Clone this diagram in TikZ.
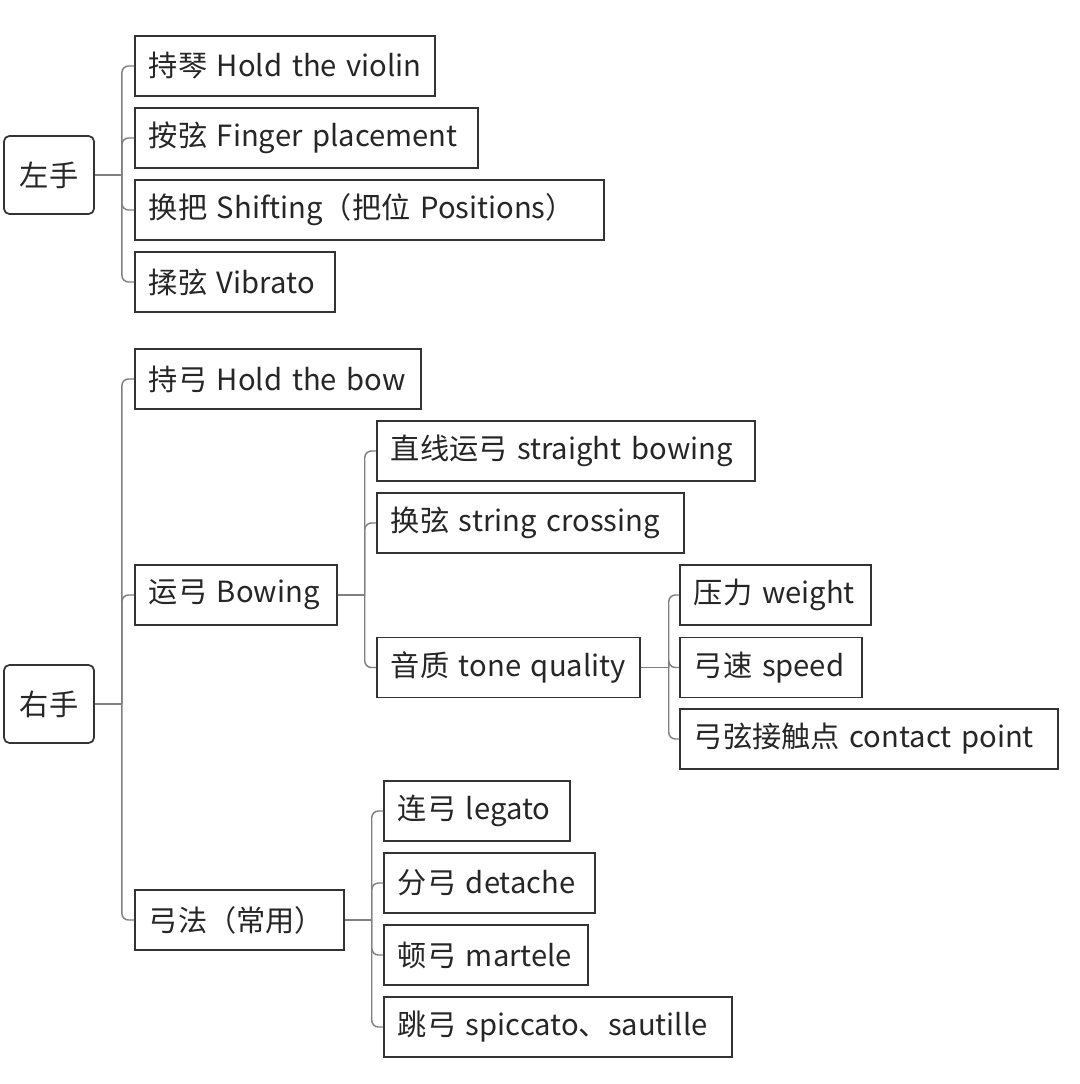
\documentclass[tikz,border=0pt]{standalone}
\usepackage{fontspec}
\setmainfont{Noto Sans CJK SC}
\definecolor{boxline}{HTML}{333333}
\definecolor{connline}{HTML}{808080}
\definecolor{txt}{HTML}{262626}
\begin{document}
\begin{tikzpicture}[x=0.75pt,y=-0.75pt,
  every node/.style={font=\fontsize{21.9pt}{26pt}\selectfont, text=txt},
  rootbox/.style={draw=boxline, line width=1.3pt, rounded corners=4pt,
    minimum width=67.5pt, minimum height=58.5pt, inner sep=0pt},
  leaf/.style={draw=boxline, line width=1.3pt, anchor=west, minimum height=45pt,
    inner xsep=10.5pt, inner ysep=0pt, text width=#1, align=left},
  conn/.style={draw=connline, line width=1.1pt, rounded corners=5pt}]
\fill[white] (0,0) rectangle (1080,1084);
\useasboundingbox (0,0) rectangle (1080,1084);

% roots
\node[rootbox] (L) at (49,175) {左手};
\node[rootbox] (R) at (49,704) {右手};

% left hand children
\node[leaf=204pt] (a1) at (134,66) {\mbox{持琴 Hold the violin}};
\node[leaf=236.25pt] (a2) at (134,138) {\mbox{按弦 Finger placement}};
\node[leaf=330.75pt] (a3) at (134,210) {\mbox{换把 Shifting（把位 Positions）}};
\node[leaf=129pt] (a4) at (134,282) {\mbox{揉弦 Vibrato}};

% right hand children
\node[leaf=193.5pt] (b1) at (134,379) {\mbox{持弓 Hold the bow}};
\node[leaf=130.5pt] (b2) at (134,595) {\mbox{运弓 Bowing}};
\node[leaf=135.75pt] (b3) at (134,920) {\mbox{弓法（常用）}};

% bowing children
\node[leaf=262.5pt] (c1) at (376,451) {\mbox{直线运弓 straight bowing}};
\node[leaf=209.25pt] (c2) at (376,523) {\mbox{换弦 string crossing}};
\node[leaf=176.25pt] (c3) at (376,667.5) {\mbox{音质 tone quality}};

% tone quality children
\node[leaf=122.25pt] (d1) at (679,595) {\mbox{压力 weight}};
\node[leaf=115.5pt] (d2) at (679,667.5) {\mbox{弓速 speed}};
\node[leaf=262.5pt] (d3) at (679,739) {\mbox{弓弦接触点 contact point}};

% bow technique children
\node[leaf=118.5pt] (e1) at (383,811) {\mbox{连弓 legato}};
\node[leaf=137.25pt] (e2) at (383,883) {\mbox{分弓 detache}};
\node[leaf=132pt] (e3) at (383,955) {\mbox{顿弓 martele}};
\node[leaf=240pt] (e4) at (383,1027) {\mbox{跳弓 spiccato、sautille}};

% connectors
\draw[conn] (L.east) -- ++(27,0) coordinate (jL);
\foreach \c in {a1,a2,a3,a4} \draw[conn] (jL) |- (\c.west);

\draw[conn] (R.east) -- ++(27,0) coordinate (jR);
\foreach \c in {b1,b2,b3} \draw[conn] (jR) |- (\c.west);

\draw[conn] (b2.east) -- ++(27,0) coordinate (jB);
\foreach \c in {c1,c2,c3} \draw[conn] (jB) |- (\c.west);

\draw[conn] (c3.east) -- ++(28,0) coordinate (jC);
\foreach \c in {d1,d2,d3} \draw[conn] (jC) |- (\c.west);

\draw[conn] (b3.east) -- ++(27,0) coordinate (jE);
\foreach \c in {e1,e2,e3,e4} \draw[conn] (jE) |- (\c.west);
\end{tikzpicture}
\end{document}
